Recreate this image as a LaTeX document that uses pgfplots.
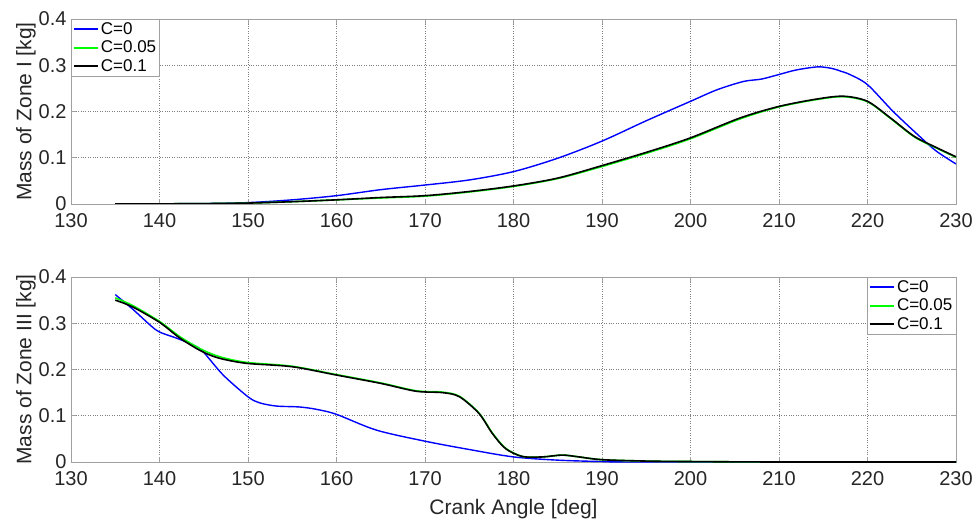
\documentclass[border=0pt]{standalone}
\usepackage{pgfplots}
\pgfplotsset{compat=1.18}
\usepackage{fontspec}
\setmainfont{Liberation Sans}
\definecolor{axgray}{RGB}{160,160,160}
\definecolor{txtgray}{RGB}{38,38,38}
\definecolor{cblue}{RGB}{0,0,255}
\definecolor{cgreen}{RGB}{0,255,0}
\pgfplotsset{
  myaxis/.style={
    scale only axis, width=885pt, height=185pt,
    xmin=130, xmax=230, ymin=0, ymax=0.4,
    xtick={130,140,...,230}, ytick={0,0.1,0.2,0.3,0.4},
    yticklabels={0,0.1,0.2,0.3,0.4},
    grid=major, major grid style={dotted, gray, line width=0.6pt},
    axis line style={axgray, line width=0.8pt},
    tick style={axgray, line width=0.8pt}, tick align=inside, major tick length=5pt,
    every tick label/.style={font=\fontsize{20}{23}\selectfont, text=txtgray},
    /pgf/number format/assume math mode=true,
    xticklabel style={yshift=-6pt},
    yticklabel style={xshift=-1pt},
    label style={font=\fontsize{21}{24}\selectfont, text=txtgray},
    ylabel style={yshift=-4pt},
    legend style={font=\fontsize{17}{20}\selectfont, draw=axgray, inner sep=1.5pt, row sep=1pt},
    legend cell align=left,
  },
  s0/.style={color=cblue, line width=1.4pt, smooth},
  s1/.style={color=cgreen, line width=1.6pt, smooth},
  s2/.style={color=black, line width=1.6pt, smooth},
}
\begin{document}
\begin{tikzpicture}
\useasboundingbox (0,0) rectangle (975pt,520pt);
\begin{axis}[myaxis, at={(71pt,316pt)}, anchor=south west,
  ylabel={Mass of Zone I [kg]},
  legend style={at={(0,1)}, anchor=north west}]
\addlegendimage{legend image code/.code={\draw[draw=cblue, line width=2pt] (0cm,0cm) -- (0.85cm,0cm);}}
\addlegendentry{C=0}
\addlegendimage{legend image code/.code={\draw[draw=cgreen, line width=2pt] (0cm,0cm) -- (0.85cm,0cm);}}
\addlegendentry{C=0.05}
\addlegendimage{legend image code/.code={\draw[draw=black, line width=2pt] (0cm,0cm) -- (0.85cm,0cm);}}
\addlegendentry{C=0.1}
\addplot[s0, forget plot] coordinates {
(135,0) (140,0.0005) (145,0.001) (150,0.003) (155,0.009) (160,0.018) (165,0.031) (170,0.041) (175,0.052) (180,0.070) (185,0.099) (190,0.136) (195,0.180) (200,0.222) (203,0.247) (206,0.265) (208,0.270) (210,0.280) (212,0.290) (214.4,0.2965) (216,0.293) (217,0.287) (218,0.280) (220,0.258) (222.9,0.200) (225.9,0.146) (227.8,0.114) (230,0.0866)};
\addplot[s1, forget plot] coordinates {
(135,0) (140,0.0003) (145,0.0008) (150,0.002) (155,0.005) (160,0.009) (165,0.013) (170,0.017) (175,0.026) (180,0.038) (185,0.055) (190,0.081) (195.4,0.112) (200,0.141) (205.6,0.184) (210,0.210) (214.3,0.226) (217.3,0.232) (220,0.221) (222.6,0.185) (225.3,0.145) (227.9,0.120) (230,0.101)};
\addplot[s2, forget plot] coordinates {
(135,0) (140,0.0003) (145,0.0008) (150,0.002) (155,0.005) (160,0.009) (165,0.014) (170,0.018) (175,0.027) (180,0.039) (185,0.056) (190,0.083) (195.4,0.114) (200,0.143) (205.6,0.186) (210,0.211) (214.3,0.227) (217.3,0.233) (220,0.222) (222.6,0.186) (225.3,0.146) (227.9,0.121) (230,0.102)};
\end{axis}
\begin{axis}[myaxis, at={(71pt,58pt)}, anchor=south west,
  ylabel={Mass of Zone III [kg]}, xlabel={Crank Angle [deg]},
  xlabel style={yshift=-7pt},
  legend style={at={(1,1)}, anchor=north east}]
\addlegendimage{legend image code/.code={\draw[draw=cblue, line width=2pt] (0cm,0cm) -- (0.85cm,0cm);}}
\addlegendentry{C=0}
\addlegendimage{legend image code/.code={\draw[draw=cgreen, line width=2pt] (0cm,0cm) -- (0.85cm,0cm);}}
\addlegendentry{C=0.05}
\addlegendimage{legend image code/.code={\draw[draw=black, line width=2pt] (0cm,0cm) -- (0.85cm,0cm);}}
\addlegendentry{C=0.1}
\addplot[s0, forget plot] coordinates {
(135,0.362) (137,0.33) (139,0.295) (140,0.281) (141.9,0.268) (143.8,0.253) (144.9,0.239) (147.2,0.188) (150,0.141) (151.3,0.128) (153.2,0.121) (155.8,0.119) (157.7,0.114) (160,0.103) (164.5,0.069) (170,0.045) (175,0.027) (180,0.011) (185,0.004) (190,0.001) (195,0) (230,0)};
\addplot[s1, forget plot] coordinates {
(135,0.355) (137,0.338) (140,0.304) (142.3,0.271) (144.5,0.246) (146,0.233) (147.5,0.224) (150,0.215) (155,0.207) (160,0.189) (165,0.171) (169,0.154) (172,0.151) (173.9,0.142) (176.1,0.106) (177.6,0.063) (179.1,0.030) (181,0.012) (183.3,0.011) (185.5,0.015) (187.4,0.011) (190,0.005) (195,0.002) (200,0.001) (210,0) (230,0)};
\addplot[s2, forget plot] coordinates {
(135,0.350) (137,0.335) (140,0.302) (142.3,0.268) (144.5,0.242) (146,0.229) (147.5,0.221) (150,0.213) (155,0.206) (160,0.188) (165,0.170) (169,0.153) (172,0.150) (173.9,0.141) (176.1,0.105) (177.6,0.062) (179.1,0.029) (181,0.012) (183.3,0.011) (185.5,0.015) (187.4,0.011) (190,0.005) (195,0.002) (200,0.001) (210,0) (230,0)};
\end{axis}
\end{tikzpicture}
\end{document}
